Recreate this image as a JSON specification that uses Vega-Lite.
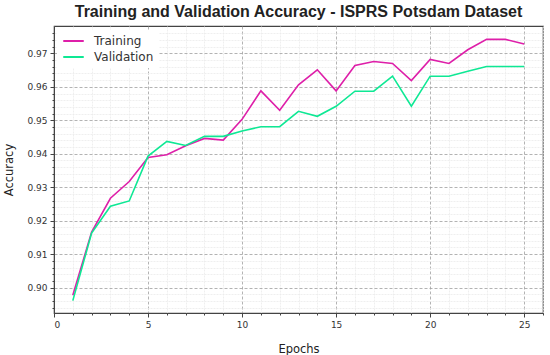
{
  "$schema": "https://vega.github.io/schema/vega-lite/v6.json",
  "width": 489,
  "height": 287,
  "autosize": "none",
  "padding": {"left": 54, "top": 26, "right": 7, "bottom": 42},
  "background": "white",
  "title": {
    "text": "Training and Validation Accuracy - ISPRS Potsdam Dataset",
    "font": "Liberation Sans",
    "fontSize": 16,
    "fontWeight": "bold",
    "color": "#222",
    "anchor": "middle",
    "offset": 6
  },
  "data": {
    "values": [
      {"epoch": 1, "series": "Training", "acc": 0.8977},
      {"epoch": 2, "series": "Training", "acc": 0.9166},
      {"epoch": 3, "series": "Training", "acc": 0.9267},
      {"epoch": 4, "series": "Training", "acc": 0.9317},
      {"epoch": 5, "series": "Training", "acc": 0.9389},
      {"epoch": 6, "series": "Training", "acc": 0.9397},
      {"epoch": 7, "series": "Training", "acc": 0.9424},
      {"epoch": 8, "series": "Training", "acc": 0.9446},
      {"epoch": 9, "series": "Training", "acc": 0.9441},
      {"epoch": 10, "series": "Training", "acc": 0.9503},
      {"epoch": 11, "series": "Training", "acc": 0.9588},
      {"epoch": 12, "series": "Training", "acc": 0.953},
      {"epoch": 13, "series": "Training", "acc": 0.9606},
      {"epoch": 14, "series": "Training", "acc": 0.9651},
      {"epoch": 15, "series": "Training", "acc": 0.9588},
      {"epoch": 16, "series": "Training", "acc": 0.9664},
      {"epoch": 17, "series": "Training", "acc": 0.9676},
      {"epoch": 18, "series": "Training", "acc": 0.967},
      {"epoch": 19, "series": "Training", "acc": 0.9619},
      {"epoch": 20, "series": "Training", "acc": 0.9682},
      {"epoch": 21, "series": "Training", "acc": 0.967},
      {"epoch": 22, "series": "Training", "acc": 0.9711},
      {"epoch": 23, "series": "Training", "acc": 0.9742},
      {"epoch": 24, "series": "Training", "acc": 0.9742},
      {"epoch": 25, "series": "Training", "acc": 0.9728},
      {"epoch": 1, "series": "Validation", "acc": 0.8961},
      {"epoch": 2, "series": "Validation", "acc": 0.9163},
      {"epoch": 3, "series": "Validation", "acc": 0.9243},
      {"epoch": 4, "series": "Validation", "acc": 0.9259},
      {"epoch": 5, "series": "Validation", "acc": 0.9393},
      {"epoch": 6, "series": "Validation", "acc": 0.9437},
      {"epoch": 7, "series": "Validation", "acc": 0.9425},
      {"epoch": 8, "series": "Validation", "acc": 0.9452},
      {"epoch": 9, "series": "Validation", "acc": 0.9452},
      {"epoch": 10, "series": "Validation", "acc": 0.9468},
      {"epoch": 11, "series": "Validation", "acc": 0.9481},
      {"epoch": 12, "series": "Validation", "acc": 0.9481},
      {"epoch": 13, "series": "Validation", "acc": 0.9527},
      {"epoch": 14, "series": "Validation", "acc": 0.9512},
      {"epoch": 15, "series": "Validation", "acc": 0.9542},
      {"epoch": 16, "series": "Validation", "acc": 0.9587},
      {"epoch": 17, "series": "Validation", "acc": 0.9587},
      {"epoch": 18, "series": "Validation", "acc": 0.9632},
      {"epoch": 19, "series": "Validation", "acc": 0.9542},
      {"epoch": 20, "series": "Validation", "acc": 0.9632},
      {"epoch": 21, "series": "Validation", "acc": 0.9632},
      {"epoch": 22, "series": "Validation", "acc": 0.9647},
      {"epoch": 23, "series": "Validation", "acc": 0.9661},
      {"epoch": 24, "series": "Validation", "acc": 0.9661},
      {"epoch": 25, "series": "Validation", "acc": 0.9661}
    ]
  },
  "mark": {"type": "line", "strokeWidth": 1.6, "clip": true},
  "encoding": {
    "x": {
      "field": "epoch",
      "type": "quantitative",
      "scale": {"domain": [0, 26], "nice": false, "zero": false},
      "axis": {
        "title": "Epochs",
        "values": [0,1,2,3,4,5,6,7,8,9,10,11,12,13,14,15,16,17,18,19,20,21,22,23,24,25,26],
        "labelExpr": "datum.value % 5 === 0 ? datum.label : ''",
        "tickSize": {"condition": {"test": "datum.value % 5 === 0", "value": 4}, "value": 2},
        "gridColor": {"condition": {"test": "datum.value % 5 === 0", "value": "#a0a0a0"}, "value": "#ebebeb"},
        "gridDash": {"condition": {"test": "datum.value % 5 === 0", "value": [3, 2]}, "value": [2, 1]},
        "titlePadding": 14
      }
    },
    "y": {
      "field": "acc",
      "type": "quantitative",
      "scale": {"domain": [0.8924, 0.9782], "nice": false, "zero": false},
      "axis": {
        "title": "Accuracy",
        "values": [0.894,0.896,0.898,0.9,0.902,0.904,0.906,0.908,0.91,0.912,0.914,0.916,0.918,0.92,0.922,0.924,0.926,0.928,0.93,0.932,0.934,0.936,0.938,0.94,0.942,0.944,0.946,0.948,0.95,0.952,0.954,0.956,0.958,0.96,0.962,0.964,0.966,0.968,0.97,0.972,0.974,0.976],
        "format": ".2f",
        "labelExpr": "abs(datum.value*100 - round(datum.value*100)) < 0.01 ? datum.label : ''",
        "tickSize": {"condition": {"test": "abs(datum.value*100 - round(datum.value*100)) < 0.01", "value": 4}, "value": 2},
        "gridColor": {"condition": {"test": "abs(datum.value*100 - round(datum.value*100)) < 0.01", "value": "#a0a0a0"}, "value": "#ebebeb"},
        "gridDash": {"condition": {"test": "abs(datum.value*100 - round(datum.value*100)) < 0.01", "value": [3, 2]}, "value": [2, 1]},
        "titlePadding": 12
      }
    },
    "color": {
      "field": "series",
      "type": "nominal",
      "scale": {"domain": ["Training", "Validation"], "range": ["#de1fa9", "#0ee894"]},
      "legend": {
        "title": null,
        "orient": "none",
        "legendX": 3,
        "legendY": 4,
        "symbolType": "stroke",
        "symbolSize": 420,
        "symbolStrokeWidth": 2,
        "clipHeight": 12,
        "labelFont": "DejaVu Sans",
        "labelFontSize": 12,
        "labelColor": "#333",
        "labelOffset": 9,
        "rowPadding": 4,
        "fillColor": "white",
        "padding": 5
      }
    }
  },
  "config": {
    "view": {"stroke": "#444", "strokeWidth": 1.2},
    "axis": {
      "labelFont": "DejaVu Sans",
      "labelFontSize": 9,
      "labelColor": "#333",
      "titleFont": "DejaVu Sans",
      "titleFontSize": 11.5,
      "titleFontWeight": "normal",
      "titleColor": "#222",
      "domainColor": "#444",
      "tickColor": "#444",
      "gridWidth": 0.8,
      "labelPadding": 3
    }
  }
}
